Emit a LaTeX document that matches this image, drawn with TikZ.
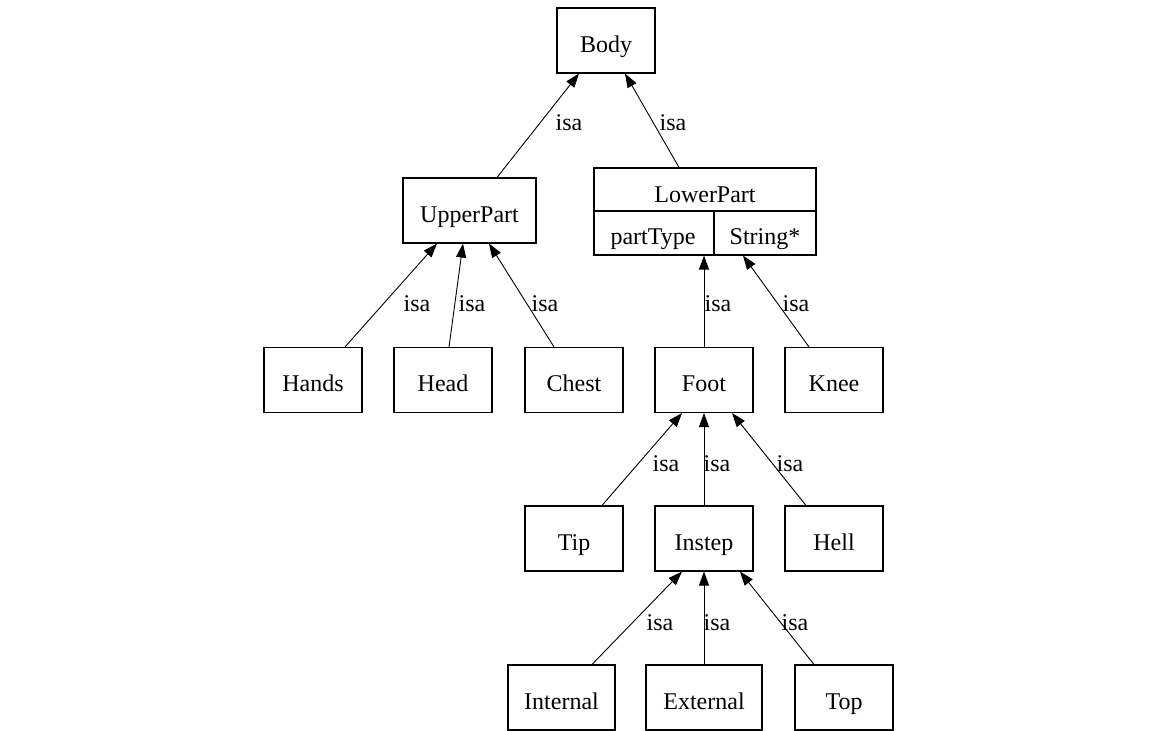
\documentclass[tikz,border=0pt]{standalone}
\usepackage{fontspec}
\setmainfont{Liberation Serif}
\usetikzlibrary{arrows.meta}
\begin{document}
\begin{tikzpicture}[x=1pt,y=-1pt,
  every node/.style={font=\fontsize{24}{28}\selectfont, inner sep=0pt},
  cls/.style={draw, line width=1.1pt, minimum width=98pt, minimum height=65pt,
              text height=23pt, text depth=0pt},
  txt/.style={anchor=base},
  isa/.style={line width=0.9pt, -{Triangle[length=14pt,width=10pt]}}
]
\useasboundingbox (0,0) rectangle (1149,731);

% classes
\node[cls] (body)  at (606,40.5)  {Body};
\node[cls, minimum width=133pt] (upper) at (469.5,210.5) {UpperPart};

% LowerPart with its attribute row
\node[draw, line width=1.1pt, minimum width=222pt, minimum height=87pt] (lower) at (705,211.5) {};
\coordinate (split) at (714,211);
\draw[line width=1.1pt] (lower.west |- split) -- (lower.east |- split);
\draw[line width=1.1pt] (split) -- (split |- lower.south);
\node[txt] (lowertitle) at (705,202) {LowerPart};
\node[txt] (parttype)   at (653,244) {partType};
\node[txt] (stringtype) at (765,244) {String*};

\node[cls] (hands) at (313,380) {Hands};
\node[cls] (head)  at (443,380) {Head};
\node[cls] (chest) at (574,380) {Chest};
\node[cls] (foot)  at (704,380) {Foot};
\node[cls] (knee)  at (834,380) {Knee};

\node[cls] (tip)    at (574,538.5) {Tip};
\node[cls] (instep) at (704,538.5) {Instep};
\node[cls] (hell)   at (834,538.5) {Hell};

\node[cls, minimum width=107pt] (internal) at (561.5,697.5) {Internal};
\node[cls, minimum width=116pt] (external) at (704,697.5)   {External};
\node[cls] (top) at (844,697.5) {Top};

% isa connectors (child -> parent)
\draw[isa] ([xshift=27.5pt]upper.north) -- ([xshift=-27pt]body.south);
\draw[isa] ([xshift=-26pt]lower.north)  -- ([xshift=19pt]body.south);

\draw[isa] ([xshift=32pt]hands.north) -- ([xshift=-32.5pt]upper.south);
\draw[isa] ([xshift=6pt]head.north)   -- ([xshift=-6.5pt]upper.south);
\draw[isa] ([xshift=-20pt]chest.north) -- ([xshift=19.5pt]upper.south);

\draw[isa] (foot.north) -- (foot.north |- lower.south);
\draw[isa] ([xshift=-25pt]knee.north) -- ([xshift=38pt]lower.south);

\draw[isa] ([xshift=28pt]tip.north)   -- ([xshift=-22pt]foot.south);
\draw[isa] (instep.north)             -- (foot.south);
\draw[isa] ([xshift=-28pt]hell.north) -- ([xshift=28pt]foot.south);

\draw[isa] ([xshift=30.5pt]internal.north) -- ([xshift=-22pt]instep.south);
\draw[isa] (external.north)                -- (instep.south);
\draw[isa] ([xshift=-30pt]top.north)       -- ([xshift=36pt]instep.south);

% connector labels
\node[txt] (l1)  at (569,130) {isa};
\node[txt] (l2)  at (673,130) {isa};
\node[txt] (l3)  at (417,311) {isa};
\node[txt] (l4)  at (472,311) {isa};
\node[txt] (l5)  at (545,311) {isa};
\node[txt] (l6)  at (718,311) {isa};
\node[txt] (l7)  at (796,311) {isa};
\node[txt] (l8)  at (666,471) {isa};
\node[txt] (l9)  at (717,471) {isa};
\node[txt] (l10) at (790,471) {isa};
\node[txt] (l11) at (660,630) {isa};
\node[txt] (l12) at (717,630) {isa};
\node[txt] (l13) at (795,630) {isa};
\end{tikzpicture}
\end{document}
